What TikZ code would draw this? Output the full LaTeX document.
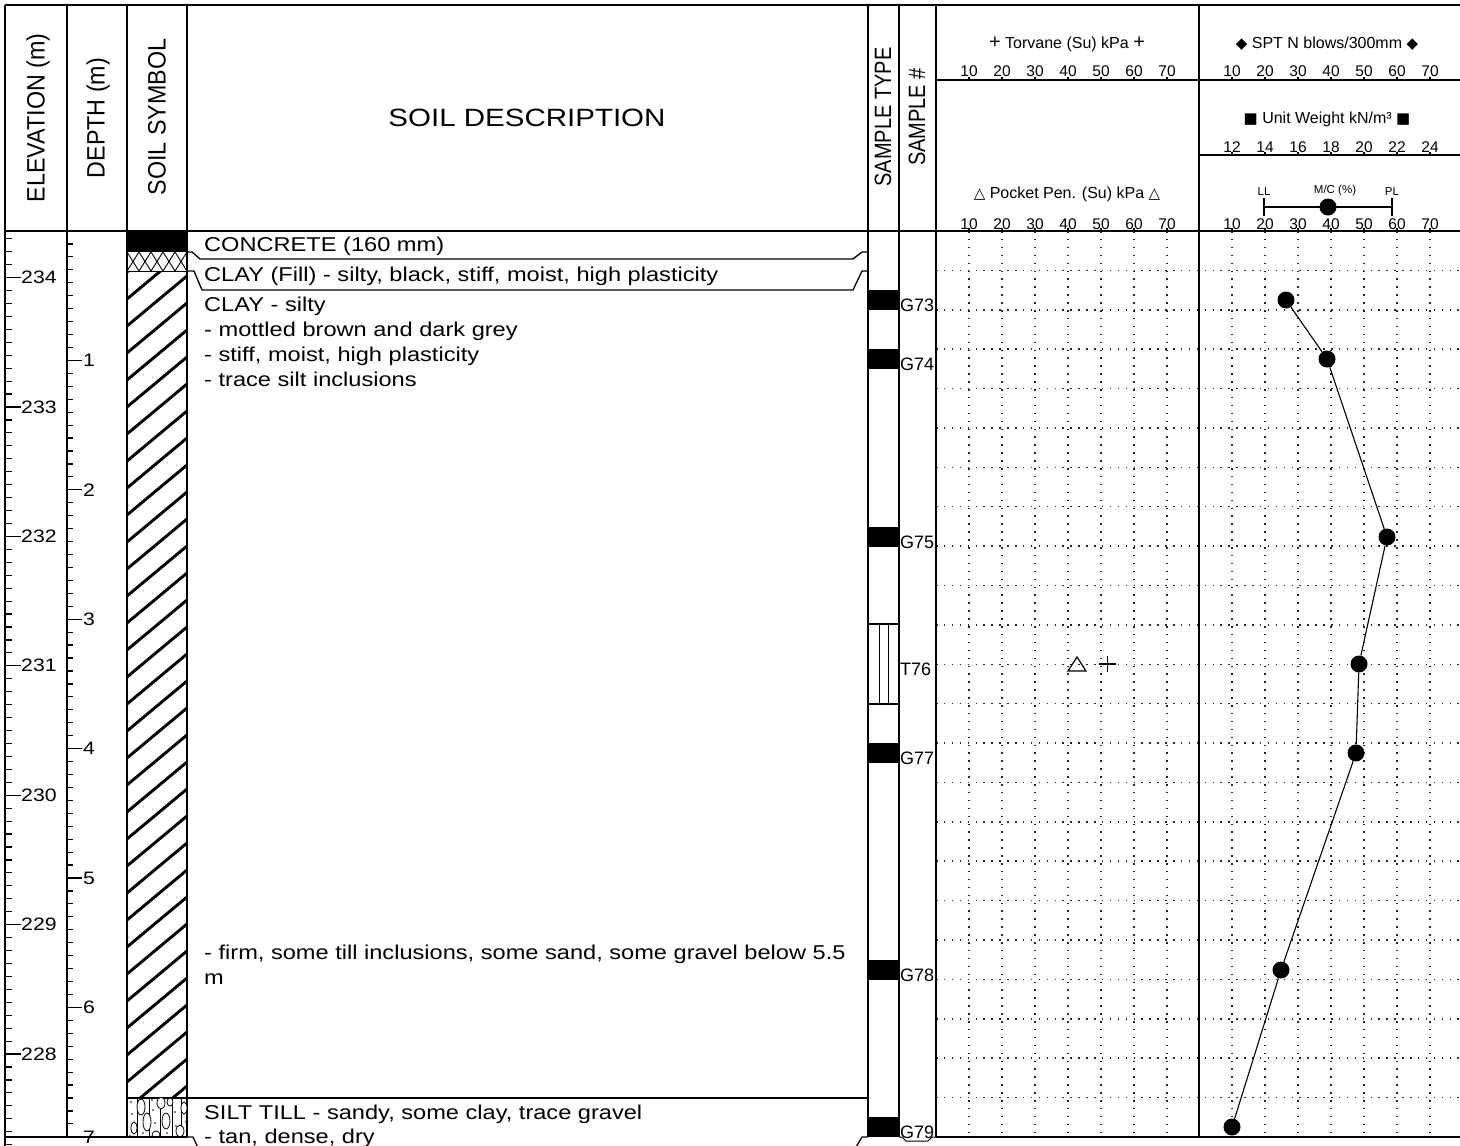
\documentclass[tikz,border=0pt]{standalone}
\usepackage{fontspec}
\setmainfont{Liberation Sans}
\newfontfamily\wfont{Liberation Sans}[FakeStretch=1.18]
\newfontfamily\symfont{DejaVu Sans}
\newcommand\myfs[1]{\fontsize{#1}{#1}\selectfont}
\newcommand\vlab[1]{\scalebox{1.18}[1]{\rotatebox{90}{\myfs{20}#1}}}
\newcommand\vlabbig[1]{\scalebox{1.08}[1]{\rotatebox{90}{\myfs{23.3}#1}}}
\begin{document}
\begin{tikzpicture}[x=1pt,y=-1pt,
  declare function={dep(\x)=231+129.4*\x; elv(\x)=231+129.4*(234.36-\x);},
  frame/.style={line width=1.3pt},
  heavy/.style={line width=2.4pt},
  tickline/.style={line width=1.2pt},
  griddot/.style={line width=1.5pt, dash pattern=on 1.5pt off 6.4pt, black!85},
  desc/.style={anchor=base west, inner sep=0pt, font=\wfont\myfs{20}},
  axnum/.style={inner sep=0pt, font=\myfs{15.5}},
  hlab/.style={inner sep=0pt, font=\myfs{16}},
  smalllab/.style={inner sep=0pt, font=\myfs{11.5}},
  samplab/.style={anchor=base west, inner sep=0pt, font=\myfs{18}},
  scalelab/.style={anchor=west, inner sep=0pt, font=\wfont\myfs{18}},
  mc/.style={circle, fill=black, minimum size=17pt, inner sep=0pt},
  samp/.style={fill=black}
]
\useasboundingbox (0,0) rectangle (1460,1146);
\fill[white] (0,0) rectangle (1460,1146);
\clip (0,0) rectangle (1460,1146);

% ---------- plot grid ----------
\foreach \k in {1,...,22}
  \draw[griddot] (936,{231+39.39*\k}) -- (1460,{231+39.39*\k});
\foreach \v in {10,20,...,70} {
  \draw[griddot] ({936+3.3*\v},231) -- ({936+3.3*\v},1137);
  \draw[griddot] ({1199+3.3*\v},231) -- ({1199+3.3*\v},1137);
}

% ---------- frame ----------
\draw[heavy] (5,5) -- (1460,5);
\draw[frame] (5,5) -- (5,1146);
\foreach \xx in {67,127,187,868,899,936,1199}
  \draw[frame] (\xx,5) -- (\xx,1137);
\draw[frame] (936,80) -- (1460,80);
\draw[frame] (1199,155) -- (1460,155);
\draw[heavy] (5,231) -- (1460,231);
\draw[frame] (5,1137) -- (187,1137);
\draw[heavy] (936,1137) -- (1460,1137);

% axis ticks on header lines
\foreach \v in {10,20,...,70} {
  \draw[tickline] ({936+3.3*\v},77) -- ({936+3.3*\v},80);
  \draw[tickline] ({1199+3.3*\v},77) -- ({1199+3.3*\v},80);
  \draw[tickline] ({936+3.3*\v},228) -- ({936+3.3*\v},231);
  \draw[tickline] ({1199+3.3*\v},228) -- ({1199+3.3*\v},231);
  \draw[tickline] ({1199+3.3*\v},152) -- ({1199+3.3*\v},155);
}

% ---------- header texts ----------
\node (hel) at (38,118) {\vlabbig{ELEVATION (m)}};
\node (hde) at (98,118) {\vlabbig{DEPTH (m)}};
\node (hss) at (157,117) {\vlabbig{SOIL SYMBOL}};
\node (hsd) at (527,118) {\wfont\myfs{25}SOIL DESCRIPTION};
\node (hst) at (883,117) {\vlab{SAMPLE TYPE}};
\node (hsn) at (917,117) {\vlab{SAMPLE \#}};

\node[hlab] (torv) at (1067,44) {{\myfs{20}+} Torvane (Su) kPa {\myfs{20}+}};
\node[hlab] (spt) at (1327,44) {{\symfont\myfs{15}◆} SPT N blows/300mm {\symfont\myfs{15}◆}};
\node[hlab] (uw) at (1327,119) {{\symfont\myfs{15}■} Unit Weight kN/m³ {\symfont\myfs{15}■}};
\node[hlab] (ppen) at (1067,194) {{\symfont\myfs{15}△} Pocket Pen. (Su) kPa {\symfont\myfs{15}△}};

\foreach \v in {10,20,...,70} {
  \node[axnum] at ({936+3.3*\v},71) {\v};
  \node[axnum] at ({1199+3.3*\v},71) {\v};
  \node[axnum] at ({936+3.3*\v},224) {\v};
  \node[axnum] at ({1199+3.3*\v},224) {\v};
}
\foreach \v [count=\c] in {12,14,...,24}
  \node[axnum] at ({1199+33*\c},147) {\v};

\node[smalllab] (ll) at (1264,192) {LL};
\node[smalllab] (mclab) at (1335,191) {M/C (\%)};
\node[smalllab] (pl) at (1392,192) {PL};
\draw[line width=1.2pt] (1264,207) -- (1392,207);
\draw[line width=2.6pt] (1264,198) -- (1264,216);
\draw[line width=2.6pt] (1392,198) -- (1392,216);
\node[mc] (mcleg) at (1328,207) {};

% ---------- elevation and depth scales ----------
\foreach \i in {0,...,70}
  \draw[tickline] (6,{elv(234.3-0.1*\i)}) -- (12,{elv(234.3-0.1*\i)});
\foreach \e in {228,...,234} {
  \draw[tickline] (6,{elv(\e)}) -- (21,{elv(\e)});
  \node[scalelab] at (21,{elv(\e)}) {\e};
}
\foreach \i in {1,...,71}
  \draw[tickline] (67,{dep(\i/10)}) -- (73,{dep(\i/10)});
\foreach \d in {1,...,7} {
  \draw[tickline] (67,{dep(\d)}) -- (82,{dep(\d)});
  \node[scalelab] at (83,{dep(\d)}) {\d};
}

% ---------- soil symbols ----------
\fill (127,231) rectangle (187,252);
\begin{scope}
  \clip (127,252) rectangle (187,271);
  \foreach \k in {0,...,4} {
    \draw[line width=0.9pt] ({127+12*\k},252) -- ({139+12*\k},271);
    \draw[line width=0.9pt] ({139+12*\k},252) -- ({127+12*\k},271);
  }
\end{scope}
\draw[line width=0.9pt] (127,271) -- (187,271);
\begin{scope}
  \clip (127,271) rectangle (187,1098);
  \foreach \k in {0,...,33}
    \draw[line width=2.9pt] (127,{272+27*\k}) -- (187,{272+27*\k-50});
\end{scope}
\draw[frame] (127,1098) -- (187,1098);
\begin{scope}
  \clip (127,1098) rectangle (187,1137);
  \foreach \xx in {137,149,160,172,181}
    \draw[line width=0.8pt] (\xx,1098) -- (\xx,1137);
  \foreach \ex/\ey/\ea/\eb in {141/1107/4/8, 161/1103/4/6, 134/1128/3/6, 147/1122/4/9,
      166/1121/4/8, 184/1108/3/6, 156/1135/4/4, 180/1131/4/6, 170/1102/3/4}
    \draw[line width=0.8pt, fill=white] (\ex,\ey) ellipse ({\ea} and {\eb});
  \foreach \px/\py in {131/1102, 132/1114, 153/1110, 155/1123, 175/1112, 143/1133,
      186/1122, 130/1136, 167/1133, 152/1100, 176/1126}
    \fill (\px,\py) circle (0.9);
\end{scope}
\draw[frame] (127,1137) -- (187,1137);

% ---------- layer boundaries in description ----------
\draw[frame] (187,252) -- (192,252) -- (200,259) -- (853,259) -- (862,252) -- (868,252);
\draw[frame] (187,271) -- (194,271) -- (202,290) -- (853,290) -- (862,271) -- (868,271);
\draw[frame] (187,1098) -- (868,1098);
\draw[frame] (187,1137) -- (193,1137) -- (200,1152) -- (853,1152) -- (862,1137) -- (868,1137);

% ---------- descriptions ----------
\foreach \yy/\txt in {251/{CONCRETE (160 mm)},
    281/{CLAY (Fill) - silty, black, stiff, moist, high plasticity},
    311/{CLAY - silty},
    336/{- mottled brown and dark grey},
    361/{- stiff, moist, high plasticity},
    386/{- trace silt inclusions},
    959/{- firm, some till inclusions, some sand, some gravel below 5.5},
    984/{m},
    1119/{SILT TILL - sandy, some clay, trace gravel},
    1143/{- tan, dense, dry}}
  \node[desc] at (204,\yy) {\txt};

% ---------- samples ----------
\foreach \c in {300,359,537,753,970,1127}
  \fill[samp] (868,{\c-10}) rectangle (899,{\c+10});
\draw[frame] (868,624) rectangle (899,704);
\draw[line width=0.9pt] (879,624) -- (879,704);
\draw[line width=0.9pt] (888,624) -- (888,704);
\foreach \c/\lab in {300/G73, 359/G74, 537/G75, 664/T76, 753/G77, 970/G78, 1127/G79}
  \node[samplab] (s\lab) at (900,{\c+11}) {\lab};
\draw[line width=1pt] (899,1137) -- (902,1137) -- (906,1141) -- (928,1141) -- (932,1137) -- (936,1137);

% ---------- test data ----------
\draw[line width=1.2pt] (1077,657) -- (1086,671) -- (1068,671) -- cycle;
\draw[line width=1.2pt] (1099,664) -- (1116,664);
\draw[line width=1.2pt] (1107.5,656) -- (1107.5,672);

\node[mc] (m73) at (1286,300) {};
\node[mc] (m74) at (1327,359) {};
\node[mc] (m75) at (1387,537) {};
\node[mc] (m76) at (1359,664) {};
\node[mc] (m77) at (1356,753) {};
\node[mc] (m78) at (1281,970) {};
\node[mc] (m79) at (1232,1127) {};
\draw[line width=1.1pt] (m73) -- (m74) -- (m75) -- (m76) -- (m77) -- (m78) -- (m79);
\end{tikzpicture}
\end{document}
